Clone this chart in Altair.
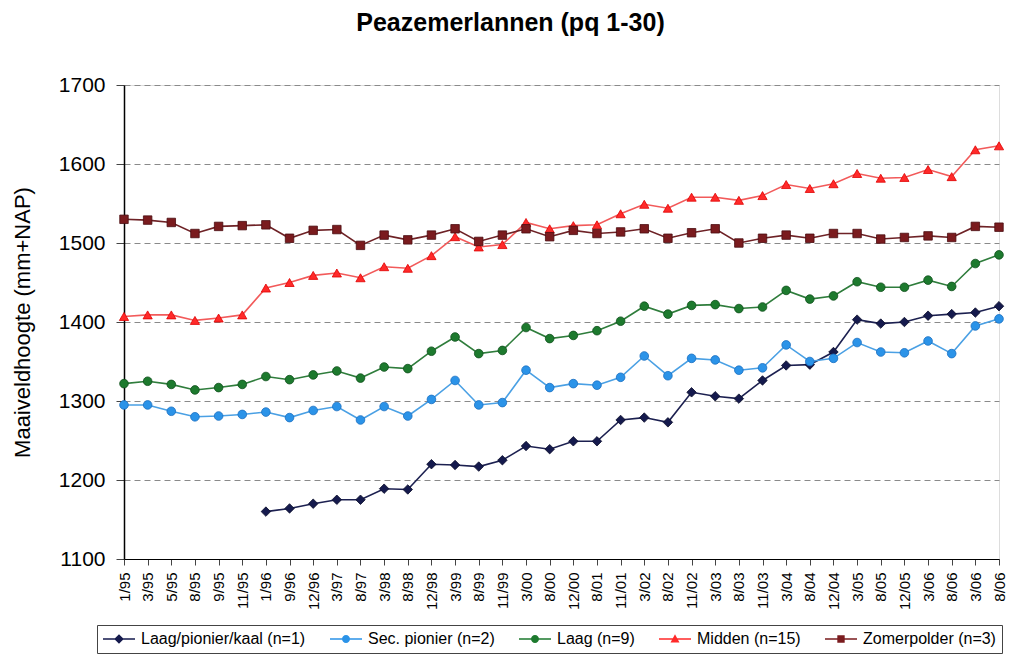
import json
import altair as alt
import pandas as pd

labels = ['1/95','3/95','5/95','8/95','9/95','11/95','1/96','9/96','12/96','3/97','8/97',
          '3/98','8/98','12/98','3/99','8/99','11/99','3/00','8/00','12/00','8/01','11/01',
          '3/02','8/02','11/02','3/03','8/03','11/03','3/04','8/04','12/04','3/05','8/05',
          '12/05','3/06','8/06','3/06','8/06']

series_names = ['Laag/pionier/kaal (n=1)', 'Sec. pionier (n=2)', 'Laag (n=9)',
                'Midden (n=15)', 'Zomerpolder (n=3)']
series_colors = ['#151a4d', '#2b93e8', '#1d7a2e', '#ff2a2a', '#7a1b1e']
line_colors = ['#1c2050', '#4aa0e4', '#2f7d3c', '#f25a5a', '#6e2226']
series_strokes = ['#0a0c2a', '#1a6fc0', '#0f4f1c', '#e00000', '#4a0d10']
series_shapes = ['M0,-1L1,0L0,1L-1,0Z', 'circle', 'circle', 'triangle-up', 'square']
series_sizes = [90, 75, 75, 85, 72]
# legend symbols: a short line with the marker on it (unit = 8 px)
BAR = 'M-1,-0.1L3,-0.1L3,0.1L-1,0.1Z '
legend_paths = [
    BAR + 'M1,-0.6L1.6,0L1,0.6L0.4,0Z',
    BAR + 'M0.5,0A0.5,0.5,0,1,1,1.5,0A0.5,0.5,0,1,1,0.5,0Z',
    BAR + 'M0.5,0A0.5,0.5,0,1,1,1.5,0A0.5,0.5,0,1,1,0.5,0Z',
    BAR + 'M1,-0.6L1.56,0.45L0.44,0.45Z',
    BAR + 'M0.54,-0.46L1.46,-0.46L1.46,0.46L0.54,0.46Z',
]

kaal = [None]*6 + [1160,1164,1170,1175,1175,1189,1188,1220,1219,1217,1225,1243,1239,1249,
                   1249,1276,1279,1273,1311,1306,1303,1326,1345,1346,1362,1403,1398,1400,
                   1408,1410,1412,1420]
sec = [1295,1295,1287,1280,1281,1283,1286,1279,1288,1293,1276,1293,1281,1302,1326,1295,
       1298,1339,1317,1322,1320,1330,1357,1332,1354,1352,1339,1342,1371,1350,1354,1374,
       1362,1361,1376,1360,1395,1404]
laag = [1322,1325,1321,1314,1317,1321,1331,1327,1333,1338,1329,1343,1341,1363,1381,1360,
        1364,1393,1379,1383,1389,1401,1420,1410,1421,1422,1417,1419,1440,1429,1433,1451,
        1444,1444,1453,1445,1474,1485]
midden = [1407,1409,1409,1402,1405,1409,1443,1450,1459,1462,1456,1470,1468,1484,1508,1495,
          1498,1526,1518,1522,1523,1537,1549,1544,1558,1558,1554,1560,1574,1569,1575,1588,
          1582,1583,1593,1584,1618,1623]
zomer = [1530,1529,1526,1512,1521,1522,1523,1506,1516,1517,1497,1510,1504,1510,1518,1502,
         1510,1518,1508,1516,1512,1514,1518,1506,1513,1518,1500,1506,1510,1506,1512,1512,
         1505,1507,1509,1507,1521,1520]

all_values = [kaal, sec, laag, midden, zomer]
rows = []
for name, vals in zip(series_names, all_values):
    for i, v in enumerate(vals):
        if v is not None:
            rows.append({'idx': i, 'serie': name, 'waarde': v})
df = pd.DataFrame(rows)
legend_df = pd.DataFrame({'serie': series_names})

FONT = 'Liberation Sans'
label_expr = json.dumps(labels) + '[datum.value]'

x_enc = alt.X('idx:O', scale=alt.Scale(type='point', padding=0, domain=list(range(len(labels)))),
              axis=alt.Axis(title=None, labelExpr=label_expr, labelAngle=270, labelFontSize=15,
                            labelFont=FONT, labelColor='#000', domainColor='#000', tickColor='#444',
                            tickSize=6, labelPadding=7, grid=False, domainWidth=1.2))
y_enc = alt.Y('waarde:Q', scale=alt.Scale(domain=[1100, 1700], nice=False, zero=False),
              axis=alt.Axis(title='Maaiveldhoogte (mm+NAP)', values=list(range(1100, 1701, 100)),
                            format='d', titleFontSize=22, titleFont=FONT, titleFontWeight='normal',
                            titleColor='#000', titlePadding=24, labelFontSize=21, labelFont=FONT,
                            labelColor='#000', domainColor='#000', tickColor='#444', tickSize=8,
                            labelPadding=11, grid=True, gridDash=[6, 4], gridColor='#8a8a8a',
                            gridWidth=1, domainWidth=1.5))

layers = []
for name, lc in zip(series_names, line_colors):
    layers.append(
        alt.Chart(df).transform_filter(alt.datum.serie == name)
        .mark_line(strokeWidth=1.6, color=lc)
        .encode(x=x_enc, y=y_enc)
    )
for name, shp, sz, fc, stc in zip(series_names, series_shapes, series_sizes,
                                  series_colors, series_strokes):
    layers.append(
        alt.Chart(df).transform_filter(alt.datum.serie == name)
        .mark_point(filled=True, shape=shp, size=sz, opacity=1, color=fc,
                    stroke=stc, strokeWidth=0.8)
        .encode(x=x_enc, y=y_enc)
    )

leg = alt.Legend(title=None, orient='none', legendX=-27, legendY=540,
                 direction='horizontal', labelFontSize=16, labelFont=FONT,
                 labelColor='#000', symbolSize=256, symbolOpacity=1,
                 symbolStrokeWidth=0, columnPadding=24, labelOffset=22,
                 padding=6, strokeColor='#444', fillColor='#fff', labelLimit=300)

legend_layer = alt.Chart(legend_df).mark_point(filled=True, opacity=0).encode(
    color=alt.Color('serie:N', scale=alt.Scale(domain=series_names, range=series_colors),
                    legend=leg),
    shape=alt.Shape('serie:N', scale=alt.Scale(domain=series_names, range=legend_paths),
                    legend=leg),
)
layers.append(legend_layer)

chart = alt.layer(*layers).properties(
    width=875, height=474,
    padding={'left': 116, 'top': 77, 'right': 9, 'bottom': 95},
    autosize=alt.AutoSizeParams(type='none'),
    title=alt.TitleParams('Peazemerlannen (pq 1-30)', fontSize=25, fontWeight='bold', font=FONT,
                          color='#000', anchor='middle', dx=-51, offset=38),
).configure_view(stroke='#808080', strokeWidth=1.5).configure(background='white')

chart.save('out.html', embed_options={'renderer': 'svg', 'actions': False})
